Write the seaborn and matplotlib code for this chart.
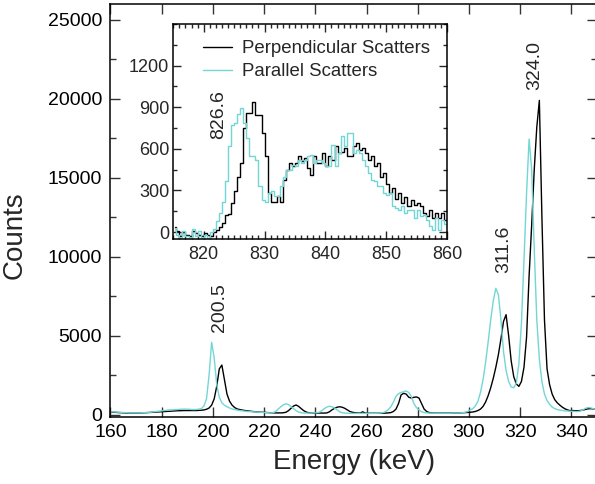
import numpy as np
import pandas as pd
import matplotlib
matplotlib.use("Agg")
import matplotlib.pyplot as plt
from matplotlib.ticker import MultipleLocator
import seaborn as sns

# main spectrum: 1 keV bins, 160-350 keV
main_start, main_width = 160.0, 1.0
perp_main = [
    160, 150, 140, 130, 120, 110, 100, 100, 100, 100,
    100, 110, 110, 120, 130, 140, 150, 160, 170, 180,
    190, 200, 210, 220, 230, 240, 250, 250, 260, 260,
    260, 260, 260, 260, 270, 280, 300, 340, 420, 600,
    1000, 1800, 2900, 3140, 2200, 1300, 850, 600, 450, 360,
    320, 290, 260, 240, 220, 200, 180, 170, 160, 150,
    140, 130, 120, 110, 110, 110, 110, 120, 150, 250,
    400, 550, 612, 520, 380, 250, 160, 120, 100, 100,
    100, 100, 100, 100, 110, 180, 300, 400, 470, 500,
    470, 400, 300, 200, 150, 120, 110, 100, 180, 100,
    90, 90, 90, 90, 90, 90, 90, 100, 110, 130,
    200, 350, 700, 1250, 1350, 1300, 1100, 1050, 1100, 1120,
    1050, 700, 350, 200, 130, 110, 100, 100, 100, 100,
    100, 100, 100, 100, 100, 100, 110, 120, 130, 140,
    150, 170, 200, 260, 350, 520, 800, 1200, 1700, 2300,
    3000, 3800, 4800, 5900, 6330, 5000, 3400, 2400, 1950, 1790,
    2100, 3000, 4900, 8800, 12000, 15500, 18200, 19900, 12500, 6000,
    2900, 1900, 1300, 950, 750, 600, 470, 370, 300, 250,
    260, 250, 250, 260, 290, 330, 370, 380, 360, 340,
]
para_main = [
    180, 170, 160, 150, 140, 130, 120, 110, 110, 110,
    110, 110, 120, 130, 140, 150, 170, 190, 210, 230,
    250, 270, 290, 300, 310, 320, 330, 340, 350, 350,
    340, 330, 320, 330, 350, 380, 550, 1000, 2500, 4580,
    3600, 1900, 1100, 750, 600, 500, 420, 360, 320, 290,
    260, 240, 220, 200, 190, 180, 170, 160, 150, 140,
    130, 120, 110, 120, 200, 350, 500, 620, 680, 640,
    520, 380, 250, 160, 120, 100, 100, 100, 100, 110,
    120, 150, 250, 380, 480, 530, 500, 420, 300, 180,
    120, 100, 90, 80, 80, 80, 80, 80, 80, 80,
    80, 80, 80, 80, 90, 100, 130, 200, 320, 500,
    800, 1160, 1330, 1400, 1450, 1500, 1400, 1150, 700, 450,
    300, 180, 130, 110, 100, 100, 90, 90, 90, 90,
    90, 90, 90, 100, 100, 100, 110, 120, 150, 200,
    300, 380, 550, 850, 1400, 2200, 3300, 4600, 6000, 7200,
    8000, 7600, 6000, 4000, 2800, 2100, 1750, 1700, 2000, 3200,
    5800, 9800, 14000, 17450, 15500, 10500, 6000, 3500, 2100, 1300,
    900, 650, 480, 380, 320, 290, 260, 240, 230, 220,
    210, 200, 200, 230, 300, 400, 450, 430, 380, 330,
]

# inset: 0.5 keV bins, 815-860 keV
inset_start, inset_width = 815.0, 0.5
perp_inset = [
    40, 10, -30, 0, -20, -30, 10, -10, -20, -30,
    -10, -20, -30, 0, 17, 40, 65, 125, 130, 210,
    293, 400, 497, 750, 857, 857, 940, 845, 845, 713,
    545, 280, 220, 216, 257, 220, 377, 450, 497, 473,
    497, 545, 509, 533, 460, 413, 545, 497, 497, 569,
    473, 545, 521, 617, 569, 580, 605, 545, 545, 617,
    640, 595, 605, 570, 520, 545, 475, 495, 400, 425,
    350, 280, 320, 235, 280, 210, 255, 185, 230, 195,
    210, 185, 140, 115, 160, 100, 135, 100, 140, 90,
]
para_inset = [
    30, -20, -40, 10, -30, -40, 20, -30, 10, -40,
    -20, -40, 0, 20, 77, 137, 220, 365, 617, 773,
    785, 850, 893, 785, 677, 545, 545, 521, 329, 233,
    220, 281, 293, 257, 257, 329, 400, 449, 449, 485,
    473, 521, 497, 521, 545, 557, 497, 521, 521, 497,
    473, 473, 629, 473, 569, 689, 617, 713, 713, 569,
    593, 569, 521, 473, 425, 377, 365, 329, 329, 281,
    269, 281, 185, 173, 161, 185, 137, 161, 161, 100,
    161, 113, 125, 89, 41, 17, 100, 17, 89, 60,
]

peak_labels = ["200.5", "311.6", "324.0"]
peak_label_pos = [(202.4, 5250), (313.7, 8970), (325.7, 20570)]
inset_label = "826.6"
inset_label_pos = (822.5, 670)

series_names = ["Perpendicular Scatters", "Parallel Scatters"]
colors = ["black", "#72d6d6"]

sns.set_theme(style="ticks")
plt.rcParams["font.family"] = ["Liberation Sans", "DejaVu Sans"]
plt.rcParams["axes.linewidth"] = 1.1

def frame(values, start, width):
    centers = start + width * (np.arange(len(values)) + 0.5)
    return pd.DataFrame({"energy": centers, "counts": values})

fig = plt.figure(figsize=(5.95, 4.84), dpi=100)
ax = fig.add_axes([0.1857, 0.1384, 0.8176, 0.8533])

for vals, name, col in zip([perp_main, para_main], series_names, colors):
    d = frame(vals, main_start, main_width)
    sns.lineplot(data=d, x="energy", y="counts", color=col, lw=1.0,
                 ax=ax, legend=False)

ax.set_xlim(160, 350)
ax.set_ylim(-150, 26000)
ax.xaxis.set_major_locator(MultipleLocator(20))
ax.yaxis.set_major_locator(MultipleLocator(5000))
ax.yaxis.set_minor_locator(MultipleLocator(2500))
ax.tick_params(which="both", direction="in", top=True, right=True, colors="#333333",
               labelcolor="black", width=1.0)
ax.tick_params(which="major", length=7, labelsize=14)
ax.tick_params(axis="x", pad=5)
ax.tick_params(axis="y", pad=6)
ax.tick_params(which="minor", length=4)
for s in ax.spines.values():
    s.set_color("black")
ax.set_xlabel("Energy (keV)", fontsize=20, labelpad=6)
ax.set_ylabel("Counts", fontsize=20)
ax.yaxis.set_label_coords(-0.17, 0.44)

for txt, (xp, yp) in zip(peak_labels, peak_label_pos):
    ax.text(xp, yp, txt, rotation=90, ha="center", va="bottom", fontsize=14)

# inset
ins = fig.add_axes([0.2913, 0.5062, 0.46, 0.4442])
for vals, name, col in zip([perp_inset, para_inset], series_names, colors):
    d = frame(vals, inset_start, inset_width)
    sns.lineplot(data=d, x="energy", y="counts", drawstyle="steps-mid",
                 color=col, lw=1.0, ax=ins, label=name)

ins.set_xlim(815, 860)
ins.set_ylim(-50, 1500)
ins.xaxis.set_major_locator(MultipleLocator(10))
ins.xaxis.set_minor_locator(MultipleLocator(1))
ins.yaxis.set_major_locator(MultipleLocator(300))
ins.yaxis.set_minor_locator(MultipleLocator(150))
ins.set_yticks([0, 300, 600, 900, 1200])
ins.tick_params(which="both", direction="in", top=True, right=True, width=1.0)
ins.tick_params(which="major", length=6, labelsize=13)
ins.tick_params(which="minor", length=3)
ins.tick_params(axis="x", pad=5)
ins.tick_params(axis="y", pad=3)
ins.set_xlabel("")
ins.set_ylabel("")
for s in ins.spines.values():
    s.set_color("black")
ins.text(*inset_label_pos, inset_label, rotation=90, ha="center", va="bottom", fontsize=14)
ins.legend(loc="upper left", bbox_to_anchor=(0.107, 0.925), frameon=False,
           fontsize=13.4, handlelength=1.56, handletextpad=0.54,
           labelspacing=0.32, borderpad=0, borderaxespad=0)

fig.savefig("out.png", dpi=100)
